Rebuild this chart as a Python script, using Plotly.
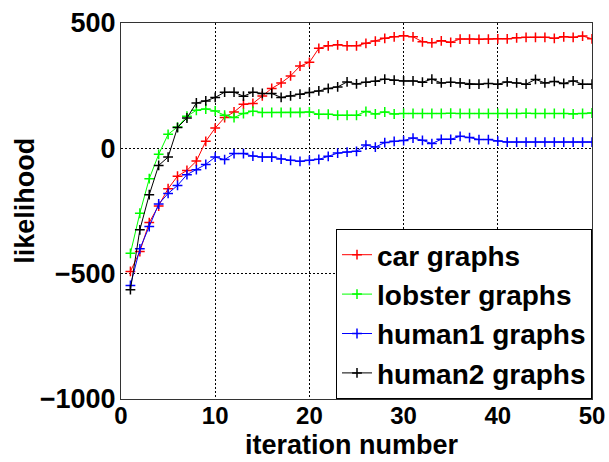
import plotly.graph_objects as go

iterations = list(range(1, 51))

car = [-491, -412, -296, -230, -161, -111, -88, -51, 28, 81,
       123, 145, 176, 179, 209, 239, 261, 289, 328, 343,
       399, 409, 413, 409, 409, 419, 428, 439, 445, 449,
       445, 425, 421, 429, 423, 436, 436, 435, 436, 437,
       437, 441, 443, 443, 443, 439, 445, 443, 448, 437]

lobster = [-419, -259, -121, -24, 56, 85, 128, 152, 157, 149,
           132, 123, 139, 148, 143, 143, 143, 143, 143, 145,
           136, 136, 132, 132, 132, 147, 137, 145, 137, 139,
           139, 139, 139, 139, 140, 139, 139, 139, 139, 139,
           139, 139, 140, 139, 139, 139, 139, 137, 139, 141]

human1 = [-547, -401, -312, -222, -180, -148, -105, -85, -64, -35,
          -45, -21, -21, -31, -35, -35, -43, -48, -52, -48,
          -44, -32, -19, -15, -12, 13, 5, 23, 28, 31,
          41, 32, 19, 36, 36, 48, 43, 35, 35, 29,
          25, 25, 25, 25, 25, 25, 25, 25, 25, 25]

human2 = [-564, -325, -185, -68, -35, 83, 121, 181, 189, 203,
          224, 224, 208, 224, 219, 219, 203, 209, 216, 223,
          229, 239, 245, 265, 257, 264, 268, 276, 272, 269,
          269, 264, 276, 261, 264, 261, 256, 256, 259, 256,
          265, 261, 256, 275, 261, 267, 259, 269, 256, 256]

series = [
    ("car graphs", car, "#ff0000"),
    ("lobster graphs", lobster, "#00ff00"),
    ("human1 graphs", human1, "#0000ff"),
    ("human2 graphs", human2, "#000000"),
]

x_ticks = [0, 10, 20, 30, 40, 50]
y_ticks = [-1000, -500, 0, 500]

FONT = "Liberation Sans, Arial, sans-serif"

fig = go.Figure()
for name, values, color in series:
    fig.add_trace(go.Scatter(
        x=iterations, y=values, name=name, mode="lines+markers",
        line=dict(color=color, width=1),
        marker=dict(symbol="cross-thin", size=7, color=color,
                    line=dict(color=color, width=1.5)),
    ))

axis_common = dict(
    showline=True, linecolor="#333333", linewidth=1, mirror=True,
    showgrid=True, gridcolor="#000000", gridwidth=1, griddash="2px,2px",
    zeroline=False, ticks="", automargin=False,
)

fig.update_xaxes(range=[0, 50], tickvals=x_ticks, ticklabelstandoff=-5,
                 tickfont=dict(family=FONT, size=24, color="#000000", weight="bold"),
                 **axis_common)
fig.update_yaxes(range=[-1000, 500], tickvals=y_ticks, ticklabelstandoff=-1,
                 tickfont=dict(family=FONT, size=27, color="#000000", weight="bold"),
                 **axis_common)

fig.update_layout(
    width=609, height=462,
    margin=dict(l=121, r=17, t=23, b=63, autoexpand=False),
    paper_bgcolor="white", plot_bgcolor="white",
    showlegend=True,
    legend=dict(x=1, y=0, xanchor="right", yanchor="bottom",
                bgcolor="white", bordercolor="#000000", borderwidth=1,
                font=dict(family=FONT, size=28, color="#000000", weight="bold"),
                itemwidth=30),
    annotations=[
        dict(text="iteration number", xref="paper", yref="paper",
             x=0.49, y=-0.122, xanchor="center", yanchor="middle",
             showarrow=False,
             font=dict(family=FONT, size=27, color="#000000", weight="bold")),
        dict(text="likelihood", xref="paper", yref="paper",
             x=-0.204, y=0.527, xanchor="center", yanchor="middle",
             textangle=-90, showarrow=False,
             font=dict(family=FONT, size=27, color="#000000", weight="bold")),
    ],
)

fig.write_html("out.html")
